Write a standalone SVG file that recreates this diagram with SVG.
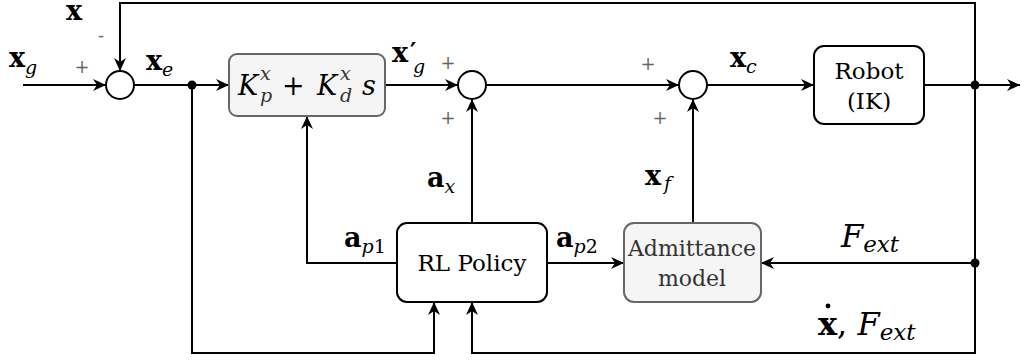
<svg xmlns="http://www.w3.org/2000/svg" width="1022" height="360" viewBox="0 0 1022 360">
<defs>
<marker id="arr" markerUnits="userSpaceOnUse" markerWidth="14" markerHeight="14" refX="13" refY="7" orient="auto">
<path d="M0,1 L13,7 L0,13 L4,7 z" fill="#000"/>
</marker>
<style>
.c{fill:none;stroke:#000;stroke-width:2}
.sum{fill:#fff;stroke:#000;stroke-width:2}
.blk{fill:#fff;stroke:#000;stroke-width:2}
.gblk{fill:#f5f5f5;stroke:#666;stroke-width:2}
text{font-family:'DejaVu Serif','Liberation Serif',serif}
.t{font-size:23px;fill:#000;text-anchor:middle}
.gt{fill:#333}
.m{font-size:27px;fill:#000}
.b{font-weight:bold}
.i{font-style:italic}
.s{font-size:19px;font-style:italic}
.pm{font-size:18px;fill:#666;text-anchor:middle}
</style>
</defs>
<g id="connectors">
<path class="c" d="M23,85 H106" marker-end="url(#arr)"/>
<path class="c" d="M134,85 H229" marker-end="url(#arr)"/>
<path class="c" d="M385,85 H458" marker-end="url(#arr)"/>
<path class="c" d="M486,85 H679" marker-end="url(#arr)"/>
<path class="c" d="M707,85 H814" marker-end="url(#arr)"/>
<path class="c" d="M924,85 H1020" marker-end="url(#arr)"/>
<path class="c" d="M975,85 V3 H120 V71" marker-end="url(#arr)"/>
<path class="c" d="M975,263 H761" marker-end="url(#arr)"/>
<path class="c" d="M975,85 V353 H472 V302" marker-end="url(#arr)"/>
<path class="c" d="M192,85 V353 H434 V302" marker-end="url(#arr)"/>
<path class="c" d="M397,263 H307 V116" marker-end="url(#arr)"/>
<path class="c" d="M472,223 V99" marker-end="url(#arr)"/>
<path class="c" d="M547,263 H624" marker-end="url(#arr)"/>
<path class="c" d="M693,223 V99" marker-end="url(#arr)"/>
<circle cx="192" cy="85" r="4.5" fill="#000"/>
<circle cx="975" cy="85" r="4.5" fill="#000"/>
<circle cx="975" cy="263" r="4.5" fill="#000"/>
</g>
<g id="sum1"><circle class="sum" cx="120" cy="85" r="14"/></g>
<g id="sum2"><circle class="sum" cx="472" cy="85" r="14"/></g>
<g id="sum3"><circle class="sum" cx="693" cy="85" r="14"/></g>
<g id="pd-controller">
<rect class="gblk" x="229" y="54" width="156" height="62" rx="8"/>
<text class="m i gt" x="238" y="95">K</text>
<text class="s gt" x="260" y="80" font-size="17px">x</text>
<text class="s gt" x="260" y="102" font-size="17px">p</text>
<text class="m gt" x="282" y="95">+</text>
<text class="m i gt" x="317" y="95">K</text>
<text class="s gt" x="340" y="80" font-size="17px">x</text>
<text class="s gt" x="340" y="102" font-size="17px">d</text>
<text class="m i gt" x="362" y="95">s</text>
</g>
<g id="robot">
<rect class="blk" x="814" y="46" width="110" height="78" rx="10"/>
<text class="t" x="869" y="79">Robot</text>
<text class="t" x="869" y="109">(IK)</text>
</g>
<g id="rl-policy">
<rect class="blk" x="397" y="223" width="150" height="79" rx="10"/>
<text class="t" x="472" y="271">RL Policy</text>
</g>
<g id="admittance">
<rect class="gblk" x="624" y="223" width="137" height="79" rx="10"/>
<text class="t gt" x="692" y="256" style="font-size:22px">Admittance</text>
<text class="t gt" x="692" y="286" style="font-size:22px">model</text>
</g>
<g id="labels">
<text class="m b" x="66" y="20">x</text>
<text class="pm" x="101" y="42">-</text>
<text class="m" x="9" y="67"><tspan class="b">x</tspan><tspan class="s" dy="7">g</tspan></text>
<text class="pm" x="82" y="73">+</text>
<text class="m" x="146" y="70"><tspan class="b">x</tspan><tspan class="s" dy="6">e</tspan></text>
<text class="m b" x="392" y="62">x</text>
<text class="m b" x="410" y="60" style="font-size:24px">′</text>
<text class="s" x="413" y="73">g</text>
<text class="pm" x="448" y="69">+</text>
<text class="pm" x="448" y="124">+</text>
<text class="pm" x="648" y="70">+</text>
<text class="pm" x="660" y="124">+</text>
<text class="m" x="730" y="67"><tspan class="b">x</tspan><tspan class="s" dy="6">c</tspan></text>
<text class="m" x="427" y="187"><tspan class="b">a</tspan><tspan class="s" dy="6">x</tspan></text>
<text class="m" x="344" y="247"><tspan class="b">a</tspan><tspan class="s" dy="6">p</tspan><tspan style="font-size:19px">1</tspan></text>
<text class="m" x="556" y="247"><tspan class="b">a</tspan><tspan class="s" dy="6">p</tspan><tspan style="font-size:19px">2</tspan></text>
<text class="m" x="645" y="185"><tspan class="b">x</tspan><tspan class="s" dx="3" dy="5">f</tspan></text>
<text class="m" x="841" y="247" style="font-size:32px"><tspan class="i">F</tspan><tspan class="s" style="font-size:23px" dy="5">ext</tspan></text>
<text class="m" x="818" y="335" style="font-size:32px"><tspan class="b">x</tspan><tspan>, </tspan><tspan class="i">F</tspan><tspan class="s" style="font-size:23px" dy="5">ext</tspan></text>
<circle cx="828" cy="306" r="2.4" fill="#000"/>
</g>
</svg>
